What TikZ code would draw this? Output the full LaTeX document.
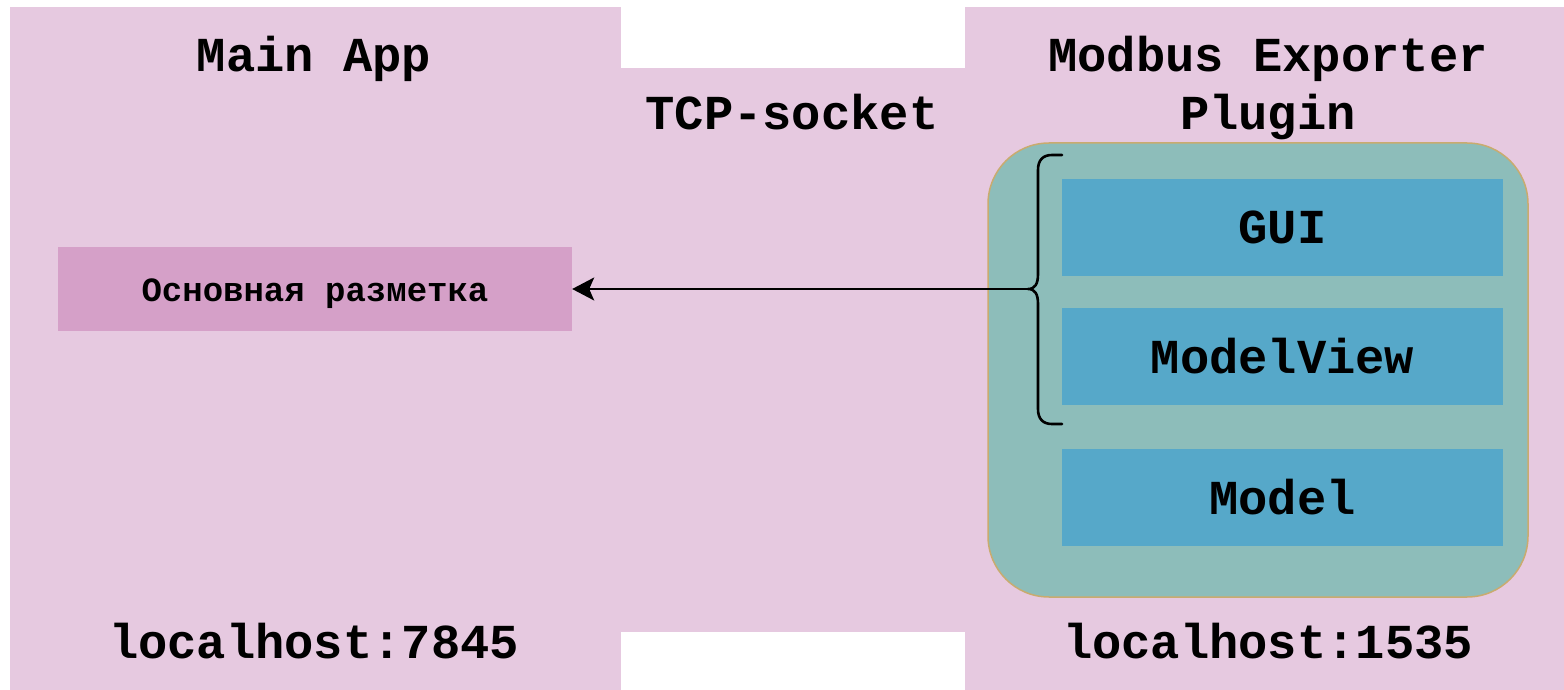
\documentclass[tikz,border=0pt]{standalone}
\usepackage{fontspec}
\setmonofont{Liberation Mono}
\usetikzlibrary{arrows.meta}

\definecolor{panelpink}{HTML}{E6C9E0}
\definecolor{markpink}{HTML}{D5A0C8}
\definecolor{plugingreen}{HTML}{8DBDBA}
\definecolor{pluginedge}{HTML}{C9AB6F}
\definecolor{layerblue}{HTML}{56A8C9}

\tikzset{
  bigtext/.style={font=\ttfamily\bfseries\fontsize{48.8}{58}\selectfont, text=black, anchor=base},
  smalltext/.style={font=\ttfamily\bfseries\fontsize{34}{40}\selectfont, text=black},
  layer/.style={fill=layerblue, draw=none, minimum width=441pt, minimum height=97pt, inner sep=0pt,
    font=\ttfamily\bfseries\fontsize{48.8}{58}\selectfont},
  connector/.style={line width=2pt, draw=black},
  bracestroke/.style={line width=2.6pt, draw=black, line cap=round, line join=round},
}

\begin{document}
\begin{tikzpicture}[x=1pt, y=-1pt]
  \useasboundingbox (0,0) rectangle (1564,690);
  \fill[white] (0,0) rectangle (1564,690);

  % background zones: two hosts joined by the socket band
  \fill[panelpink] (10,7) rectangle (621,690);
  \fill[panelpink] (621,68) rectangle (965,632);
  \fill[panelpink] (965,7) rectangle (1564,690);

  % headings
  \node[bigtext] (mainapp) at (314,72) {Main App};
  \node[bigtext] (tcp) at (792,130) {TCP-socket};
  \node[bigtext] (modbus) at (1268,72) {Modbus Exporter};
  \node[bigtext] (plugin) at (1268,130) {Plugin};
  \node[bigtext] (hostleft) at (314,658) {localhost:7845};
  \node[bigtext] (hostright) at (1268,658) {localhost:1535};

  % main layout block
  \node[fill=markpink, minimum width=514pt, minimum height=84pt, inner sep=0pt, smalltext,
        text height=30pt, text depth=6pt]
    (markup) at (315,289) {Основная разметка};

  % plugin container
  \draw[fill=plugingreen, draw=pluginedge, line width=1.5pt, rounded corners=61pt]
    (988,143) rectangle (1528,597);

  % plugin layers
  \node[layer] (gui) at (1282.5,227.5) {GUI};
  \node[layer] (modelview) at (1282.5,356.5) {ModelView};
  \node[layer] (model) at (1282.5,497.5) {Model};

  % brace grouping GUI and ModelView
  \coordinate (bracetip) at (1028,289);
  \draw[bracestroke]
    (1062,155) -- (1052,155)
      .. controls (1043,155) and (1038,160) .. (1038,170)
      -- (1038,274)
      .. controls (1038,284) and (1035,289) .. (bracetip)
      .. controls (1035,289) and (1038,294) .. (1038,304)
      -- (1038,409)
      .. controls (1038,419) and (1043,424) .. (1052,424)
      -- (1062,424);

  % connection over the socket
  \draw[connector, -{Stealth[length=22pt, width=23pt, inset=5pt]}] (bracetip) -- (markup.east);
\end{tikzpicture}
\end{document}
